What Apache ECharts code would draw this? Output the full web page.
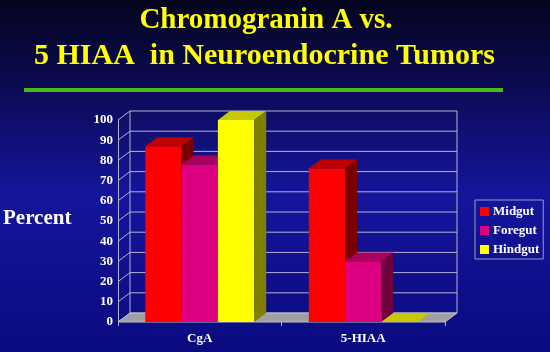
<!DOCTYPE html>
<html>
<head>
<meta charset="utf-8">
<script src="https://cdn.jsdelivr.net/npm/echarts@6/dist/echarts.min.js"></script>
<style>
  html, body { margin: 0; padding: 0; }
  #chart { width: 550px; height: 352px; }
</style>
</head>
<body>
<div id="chart"></div>
<script>
// 数据
const categories = ['CgA', '5-HIAA'];
const midgut = [87, 76];
const foregut = [78, 30];
const hindgut = [100, 0];
const yTicks = [0, 10, 20, 30, 40, 50, 60, 70, 80, 90, 100];

// 3D 深度偏移
const DX = 12;
const DY = -9;
const SERIF = '"Liberation Serif", "DejaVu Serif", serif';

// 三维柱子
function makeBar(name, values, slot, colors) {
    return {
        name: name,
        type: 'custom',
        itemStyle: { color: colors[0] },
        data: values.map((v, i) => [i, v]),
        renderItem: (params, api) => {
            const idx = api.value(0);
            const val = api.value(1);
            const base = api.coord([idx, 0]);
            const top = api.coord([idx, val]);
            const catW = api.size([1, 0])[0];
            const barW = catW * 0.222;
            const x0 = base[0] + (slot - 1.5) * barW;
            const x1 = x0 + barW;
            return {
                type: 'group',
                children: [
                    {
                        type: 'rect',
                        shape: { x: x0, y: top[1], width: barW, height: base[1] - top[1] },
                        style: { fill: colors[0] }
                    },
                    {
                        type: 'polygon',
                        shape: { points: [[x0, top[1]], [x0 + DX, top[1] + DY], [x1 + DX, top[1] + DY], [x1, top[1]]] },
                        style: { fill: colors[1] }
                    },
                    {
                        type: 'polygon',
                        shape: { points: [[x1, top[1]], [x1 + DX, top[1] + DY], [x1 + DX, base[1] + DY], [x1, base[1]]] },
                        style: { fill: colors[2] }
                    }
                ]
            };
        }
    };
}

// 背景网格、地板
const frameSeries = {
    type: 'custom',
    silent: true,
    legendHoverLink: false,
    data: yTicks.map(v => [0, v]),
    renderItem: (params, api) => {
        const v = api.value(1);
        const p = api.coord([0, v]);
        const catW = api.size([1, 0])[0];
        const L = p[0] - catW / 2;
        const R = L + catW * categories.length;
        const y = p[1];
        const lineStyle = { stroke: '#b4b4d0', lineWidth: 1 };
        const children = [
            { type: 'line', shape: { x1: L + DX, y1: y + DY, x2: R + DX, y2: y + DY }, style: lineStyle },
            { type: 'line', shape: { x1: L, y1: y, x2: L + DX, y2: y + DY }, style: lineStyle }
        ];
        if (v === 0) {
            const topY = api.coord([0, yTicks[yTicks.length - 1]])[1];
            children.unshift({
                type: 'polygon',
                shape: { points: [[L, y], [L + DX, y + DY], [R + DX, y + DY], [R, y]] },
                style: { fill: '#a0a0a0', stroke: '#c0c0c0', lineWidth: 1 }
            });
            children.push(
                { type: 'line', shape: { x1: L + DX, y1: topY + DY, x2: L + DX, y2: y + DY }, style: lineStyle },
                { type: 'line', shape: { x1: R + DX, y1: topY + DY, x2: R + DX, y2: y + DY }, style: lineStyle }
            );
        }
        return { type: 'group', children: children };
    }
};

const chart = echarts.init(document.getElementById('chart'));

const option = {
    backgroundColor: new echarts.graphic.LinearGradient(0, 0, 0, 1, [
        { offset: 0, color: '#05051e' },
        { offset: 0.28, color: '#0c0c5c' },
        { offset: 0.55, color: '#15159c' },
        { offset: 1, color: '#0a0a80' }
    ]),
    animation: false,
    graphic: [
        {
            type: 'text', x: 266, y: 6,
            style: { text: 'Chromogranin A vs.', fill: '#ffff00', font: 'bold 29px ' + SERIF, align: 'center' }
        },
        {
            type: 'text', x: 34, y: 41,
            style: { text: '5 HIAA  in Neuroendocrine Tumors', fill: '#ffff00', font: 'bold 30px ' + SERIF }
        },
        {
            type: 'line',
            shape: { x1: 24, y1: 90, x2: 503, y2: 90 },
            style: { stroke: '#4cbb17', lineWidth: 4 }
        },
        {
            type: 'text', x: 3, y: 208,
            style: { text: 'Percent', fill: '#ffffff', font: 'bold 21px ' + SERIF }
        }
    ],
    legend: {
        orient: 'vertical',
        left: 475,
        top: 200,
        width: 68,
        padding: [5, 4, 3, 5],
        itemGap: 6,
        itemWidth: 9,
        itemHeight: 9,
        icon: 'rect',
        borderColor: '#9a9ac0',
        borderWidth: 1,
        textStyle: { color: '#ffffff', fontFamily: SERIF, fontWeight: 'bold', fontSize: 13, padding: [0, 0, 0, -1] },
        data: ['Midgut', 'Foregut', 'Hindgut']
    },
    grid: { left: 118, top: 120, width: 327, height: 202 },
    xAxis: {
        type: 'category',
        data: categories,
        axisLine: { show: false },
        axisTick: { show: true, length: 4, lineStyle: { color: '#b4b4d0' } },
        axisLabel: { color: '#ffffff', fontFamily: SERIF, fontWeight: 'bold', fontSize: 13, margin: 10 }
    },
    yAxis: {
        type: 'value',
        min: 0,
        max: 100,
        interval: 10,
        axisLine: { show: true, lineStyle: { color: '#b4b4d0' } },
        axisTick: { show: false },
        splitLine: { show: false },
        axisLabel: { color: '#ffffff', fontFamily: SERIF, fontWeight: 'bold', fontSize: 13, margin: 5 }
    },
    series: [
        frameSeries,
        makeBar('Midgut', midgut, 0, ['#ff0000', '#c00000', '#7a0000']),
        makeBar('Foregut', foregut, 1, ['#dd0080', '#a8005e', '#6e003c']),
        makeBar('Hindgut', hindgut, 2, ['#ffff00', '#c8c800', '#808000'])
    ]
};

chart.setOption(option);
</script>
</body>
</html>
